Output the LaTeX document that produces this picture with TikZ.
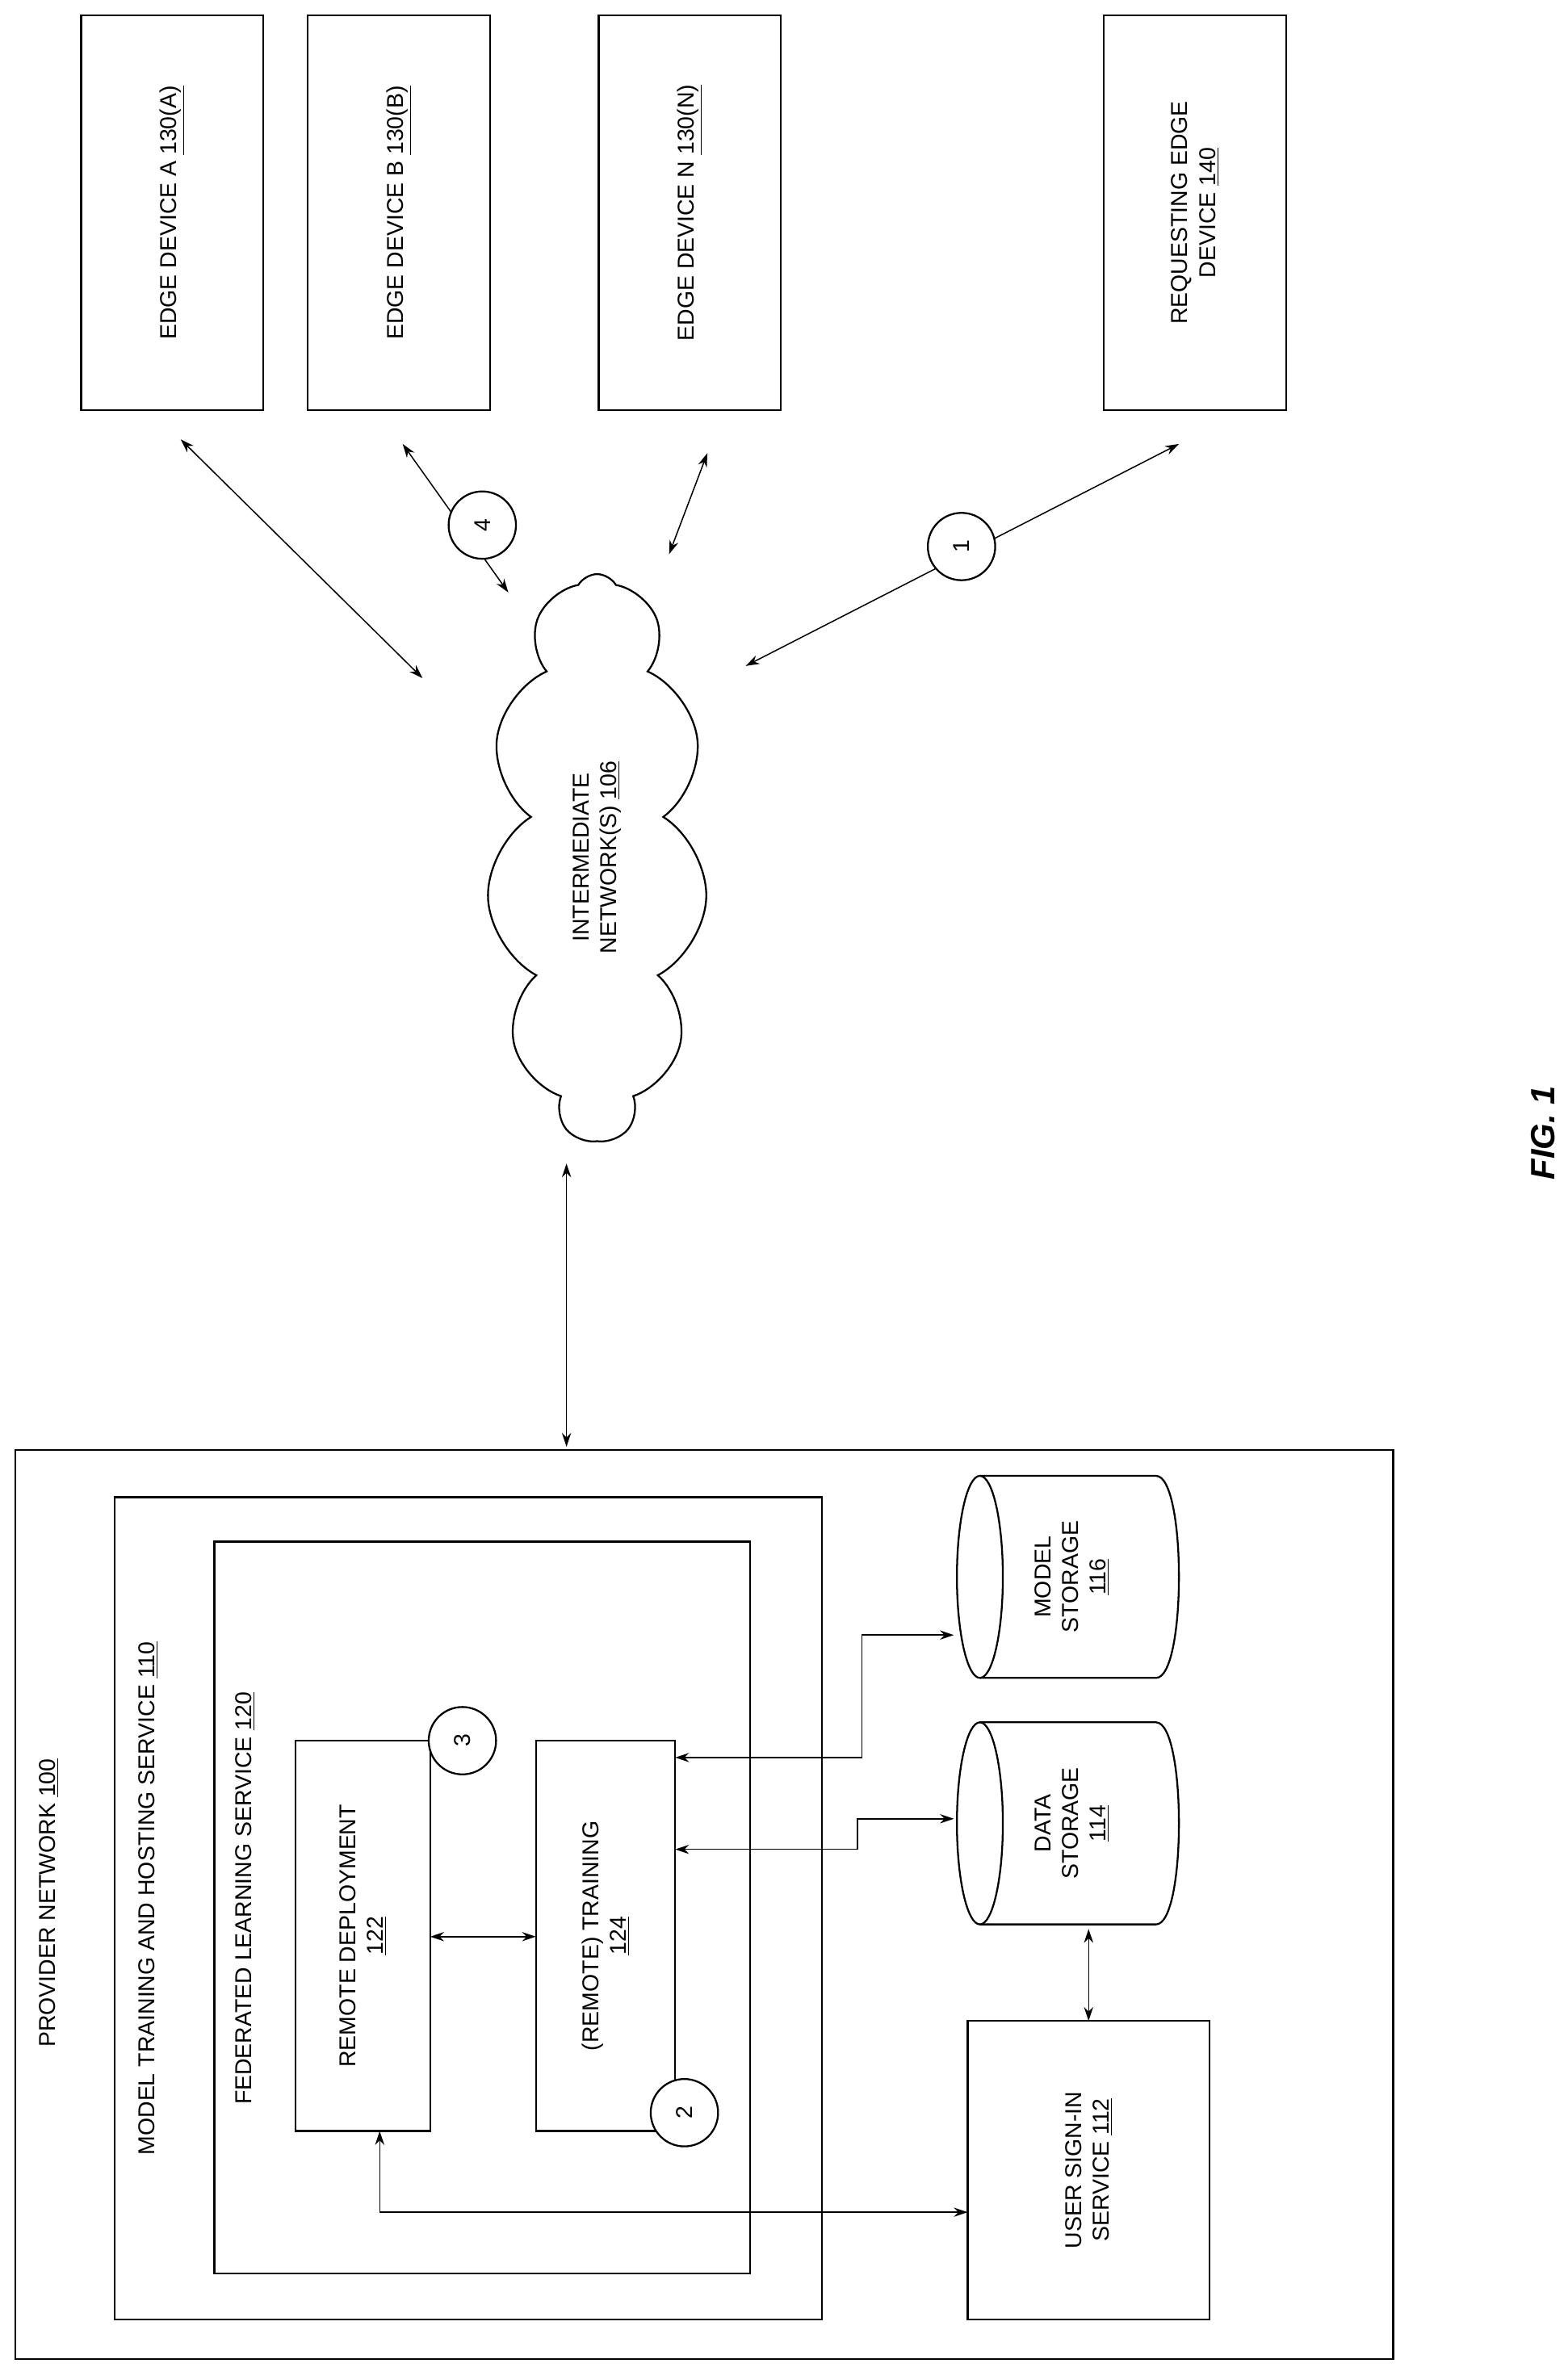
\documentclass[tikz,border=0pt]{standalone}
\usepackage{fontspec}
\setmainfont{Liberation Sans}
\usetikzlibrary{shapes.symbols,arrows.meta}
\begin{document}
\begin{tikzpicture}[x=1pt,y=-1pt,
  box/.style={draw,line width=1.2pt},
  lbl/.style={rotate=90,font=\fontsize{15}{18}\selectfont,align=center},
  dbl/.style={line width=0.8pt,{Stealth[length=9pt,width=6pt]}-{Stealth[length=9pt,width=6pt]}},
  num/.style={draw,circle,line width=1.2pt,minimum size=44pt,inner sep=0pt,font=\fontsize{15}{18}\selectfont,rotate=90}]
\useasboundingbox (0,0) rectangle (1024,1552);
% edge devices
\node[box,minimum width=119pt,minimum height=258pt] (ea) at (112.5,139) {};
\node[lbl] at (ea) {EDGE DEVICE A \underline{130(A)}};
\node[box,minimum width=119pt,minimum height=258pt] (eb) at (260.5,139) {};
\node[lbl] at (eb) {EDGE DEVICE B \underline{130(B)}};
\node[box,minimum width=119pt,minimum height=258pt] (en) at (450.5,139) {};
\node[lbl] at (en) {EDGE DEVICE N \underline{130(N)}};
\node[box,minimum width=119pt,minimum height=258pt] (er) at (780.5,139) {};
\node[lbl] at (er) {REQUESTING EDGE\\DEVICE \underline{140}};
% cloud
\node[cloud,draw,line width=1.2pt,cloud puffs=11,cloud puff arc=120,minimum width=144pt,minimum height=370pt,aspect=0.4] (cl) at (390,560) {};
\node[lbl] at (cl) {INTERMEDIATE\\NETWORK(S) \underline{106}};
\coordinate (a1) at (118,287); \coordinate (a2) at (276,443);
\draw[dbl] (a1) -- (a2);
\coordinate (b1) at (263,290); \coordinate (b2) at (332,387);
\draw[dbl] (b1) -- (b2);
\node[num,fill=white] (c4) at (315,343) {4};
\coordinate (n1) at (462,296); \coordinate (n2) at (437,362);
\draw[dbl] (n1) -- (n2);
\coordinate (r1) at (770,290); \coordinate (r2) at (487,435);
\draw[dbl] (r1) -- (r2);
\node[num,fill=white] (c1) at (628,357) {1};
\coordinate (p1) at (370,760); \coordinate (p2) at (370,945);
\draw[dbl] (p1) -- (p2);
% provider
\node[box,minimum width=900pt,minimum height=594pt] (pn) at (460,1244) {};
\node[lbl] at (32,1243) {PROVIDER NETWORK \underline{100}};
\node[box,minimum width=462pt,minimum height=537pt] (mt) at (306,1246.5) {};
\node[lbl] at (97,1240) {MODEL TRAINING AND HOSTING SERVICE \underline{110}};
\node[box,minimum width=350pt,minimum height=478pt] (fl) at (315,1246) {};
\node[lbl] at (160,1240) {FEDERATED LEARNING SERVICE \underline{120}};
\node[box,minimum width=88pt,minimum height=255pt] (rd) at (237,1264.5) {};
\node[lbl] at (rd) {REMOTE DEPLOYMENT\\\underline{122}};
\node[num,fill=white] (c3) at (302,1137) {3};
\node[box,minimum width=91pt,minimum height=255pt] (rt) at (395.5,1264.5) {};
\node[lbl] at (rt) {(REMOTE) TRAINING\\\underline{124}};
\node[num,fill=white] (c2) at (447,1380) {2};
% cylinders
\foreach \n/\yc/\t in {ms/1030/{MODEL\\STORAGE\\\underline{116}}, ds/1191/{DATA\\STORAGE\\\underline{114}}}{
  \draw[line width=1.2pt] (640,\yc-66) -- (755,\yc-66) .. controls (775,\yc-66) and (775,\yc+66) .. (755,\yc+66) -- (640,\yc+66);
  \draw[line width=1.2pt] (640,\yc) ellipse[x radius=15,y radius=66];
  \node[lbl] (\n) at (700,\yc) {\t};
}
\coordinate (msl) at (623,1068); \coordinate (dsl) at (623,1188);
\node[box,minimum width=158pt,minimum height=195pt] (us) at (711,1417.5) {};
\node[lbl] at (us) {USER SIGN-IN\\SERVICE \underline{112}};
\coordinate (rdr) at (281,1265); \coordinate (rtl) at (350,1265);
\coordinate (usl) at (632,1445); \coordinate (ust) at (711,1320);
\coordinate (dsb) at (711,1260);
% connectors
\draw[dbl] (441,1148) -- (563,1148) -- (563,1068) -- (msl);
\draw[dbl] (441,1208) -- (560,1208) -- (560,1188) -- (dsl);
\draw[dbl] (rdr) -- (rtl);
\draw[dbl] (248,1392) -- (248,1445) -- (usl);
\draw[dbl] (dsb) -- (ust);
\node[rotate=90,font=\fontsize{22}{26}\selectfont\bfseries\itshape] (fig) at (1008,740) {FIG. 1};
\end{tikzpicture}
\end{document}
